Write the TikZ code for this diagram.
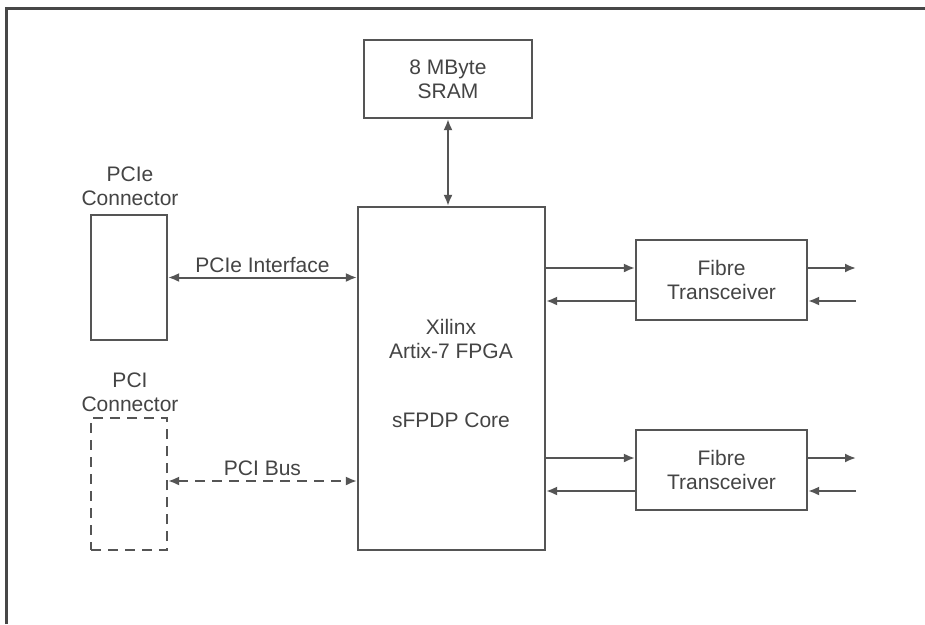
\documentclass[tikz,border=0pt]{standalone}
\usepackage{fontspec}
\setmainfont{Liberation Sans}
\usetikzlibrary{arrows.meta}
\definecolor{ln}{HTML}{555555}
\definecolor{tx}{HTML}{444444}
\begin{document}
\begin{tikzpicture}[x=1pt,y=-1pt,
  box/.style={draw=ln,line width=2.2pt,rectangle,inner sep=0pt,text=tx,align=center,
    font=\fontsize{21}{24}\selectfont},
  lbl/.style={text=tx,align=center,inner sep=0pt,font=\fontsize{21}{24}\selectfont},
  arr/.style={draw=ln,line width=2pt,-{Latex[length=11pt,width=9pt]}},
  darr/.style={draw=ln,line width=2pt,{Latex[length=11pt,width=9pt]}-{Latex[length=11pt,width=9pt]}},
  dsh/.style={dash pattern=on 10pt off 7pt}]
\useasboundingbox (0,0) rectangle (925,624);
\fill[white] (0,0) rectangle (925,624);
\draw[draw=black!72,line width=3pt] (6,624) -- (6,8.5) -- (925,8.5);

\node[box,minimum width=168pt,minimum height=78pt] (sram) at (448,79) {8 MByte\\SRAM};
\node[box,minimum width=187pt,minimum height=343pt] (fpga) at (451.5,378.5) {};
\node[lbl] (fpgat) at (451,338.5) {Xilinx\\Artix-7 FPGA};
\node[lbl] (core) at (451,420) {sFPDP Core};

\node[box,minimum width=76pt,minimum height=125pt] (pcie) at (129,277.5) {};
\node[lbl] (pciet) at (130,186.5) {PCIe\\Connector};
\node[box,dsh,minimum width=76pt,minimum height=132pt] (pci) at (129,484) {};
\node[lbl] (pcit) at (130,392.5) {PCI\\Connector};

\node[box,minimum width=171pt,minimum height=80pt] (f1) at (721.5,280) {Fibre\\Transceiver};
\node[box,minimum width=171pt,minimum height=80pt] (f2) at (721.5,470) {Fibre\\Transceiver};

\coordinate (o1) at (856,268);
\coordinate (i1) at (856,301);
\coordinate (o2) at (856,458);
\coordinate (i2) at (856,491);

\draw[darr] (sram.south) -- (sram.south |- fpga.north);
\draw[darr] (pcie.east) -- (pcie.east -| fpga.west) node[lbl,midway,above=4pt] (pcil) {PCIe Interface};
\draw[darr,dsh] ([yshift=3pt]pci.east) -- ([yshift=3pt]pci.east -| fpga.west) node[lbl,midway,above=4pt] (pcil2) {PCI Bus};

\draw[arr] ([yshift=12pt]f1.west -| fpga.east) -- ([yshift=12pt]f1.west);
\draw[arr] ([yshift=-21pt]f1.west) -- ([yshift=-21pt]f1.west -| fpga.east);
\draw[arr] (f1.east |- o1) -- (o1);
\draw[arr] (i1) -- (f1.east |- i1);

\draw[arr] ([yshift=12pt]f2.west -| fpga.east) -- ([yshift=12pt]f2.west);
\draw[arr] ([yshift=-21pt]f2.west) -- ([yshift=-21pt]f2.west -| fpga.east);
\draw[arr] (f2.east |- o2) -- (o2);
\draw[arr] (i2) -- (f2.east |- i2);
\end{tikzpicture}
\end{document}
